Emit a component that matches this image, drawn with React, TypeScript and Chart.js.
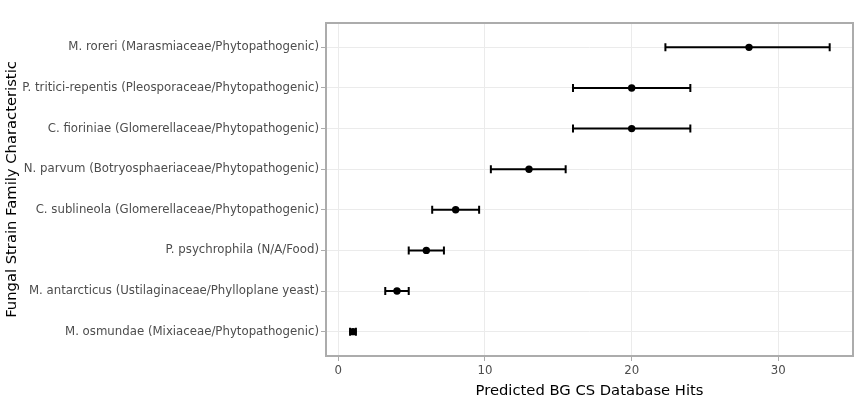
import React, { useEffect, useRef } from "react";
import { Chart, registerables } from "chart.js";

Chart.register(...registerables);

const categories = [
  "M. roreri (Marasmiaceae/Phytopathogenic)",
  "P. tritici-repentis (Pleosporaceae/Phytopathogenic)",
  "C. fioriniae (Glomerellaceae/Phytopathogenic)",
  "N. parvum (Botryosphaeriaceae/Phytopathogenic)",
  "C. sublineola (Glomerellaceae/Phytopathogenic)",
  "P. psychrophila (N/A/Food)",
  "M. antarcticus (Ustilaginaceae/Phylloplane yeast)",
  "M. osmundae (Mixiaceae/Phytopathogenic)",
];
const hits = [28, 20, 20, 13, 8, 6, 4, 1];
const lower = [22.3, 16, 16, 10.4, 6.4, 4.8, 3.2, 0.8];
const upper = [33.5, 24, 24, 15.5, 9.6, 7.2, 4.8, 1.2];
const xTicks = [0, 10, 20, 30];

const xTitle = "Predicted BG CS Database Hits";
const yTitle = "Fungal Strain Family Characteristic";

const FONT = "'DejaVu Sans', Verdana, sans-serif";

const framePlugin = {
  id: "frame",
  beforeDatasetsDraw(chart: any) {
    const { ctx, chartArea } = chart;
    ctx.save();
    ctx.strokeStyle = "#acacac";
    ctx.lineWidth = 2;
    ctx.strokeRect(
      chartArea.left,
      chartArea.top,
      chartArea.right - chartArea.left,
      chartArea.bottom - chartArea.top
    );
    ctx.restore();
  },
};

const errorBarPlugin = {
  id: "errorBars",
  beforeDatasetsDraw(chart: any) {
    const { ctx, scales } = chart;
    const x = scales.x;
    const y = scales.y;
    ctx.save();
    ctx.strokeStyle = "#000000";
    ctx.lineWidth = 2;
    hits.forEach((_, i) => {
      const py = y.getPixelForValue(i);
      const x1 = x.getPixelForValue(lower[i]);
      const x2 = x.getPixelForValue(upper[i]);
      ctx.beginPath();
      ctx.moveTo(x1, py);
      ctx.lineTo(x2, py);
      ctx.moveTo(x1, py - 4);
      ctx.lineTo(x1, py + 4);
      ctx.moveTo(x2, py - 4);
      ctx.lineTo(x2, py + 4);
      ctx.stroke();
    });
    ctx.restore();
  },
};

export default function App() {
  const canvasRef = useRef<HTMLCanvasElement | null>(null);

  useEffect(() => {
    if (!canvasRef.current) return;
    const chart = new Chart(canvasRef.current, {
      type: "scatter",
      data: {
        datasets: [
          {
            data: hits.map((v, i) => ({ x: v, y: i })),
            backgroundColor: "#000000",
            borderColor: "#000000",
            pointRadius: 3.7,
            pointHoverRadius: 3.7,
            borderWidth: 0,
          },
        ],
      },
      options: {
        animation: false,
        responsive: false,
        devicePixelRatio: 1,
        layout: { padding: { top: 23, right: 7, left: 0, bottom: 0 } },
        plugins: {
          legend: { display: false },
          tooltip: { enabled: false },
        },
        scales: {
          x: {
            type: "linear",
            min: -0.84,
            max: 35.09,
            afterFit: (s: any) => {
              s.height = 44;
            },
            afterBuildTicks: (s: any) => {
              s.ticks = xTicks.map((v) => ({ value: v }));
            },
            ticks: {
              includeBounds: false,
              padding: 3,
              color: "#4d4d4d",
              font: { family: FONT, size: 11.75 },
              maxRotation: 0,
            },
            grid: {
              color: "#ebebeb",
              lineWidth: 1,
              tickLength: 5,
              tickColor: "#acacac",
            },
            border: { display: false },
            title: {
              display: true,
              text: xTitle,
              color: "#000000",
              font: { family: FONT, size: 14.75 },
              padding: { top: 0, bottom: 0 },
            },
          },
          y: {
            type: "linear",
            min: -0.6,
            max: 7.6,
            reverse: true,
            afterFit: (s: any) => {
              s.width = 326;
            },
            afterBuildTicks: (s: any) => {
              s.ticks = categories.map((_, i) => ({ value: i }));
            },
            ticks: {
              includeBounds: false,
              padding: 2,
              color: "#4d4d4d",
              font: { family: FONT, size: 11.75 },
              callback: (v: any) => categories[Number(v)] ?? "",
            },
            grid: {
              color: "#ebebeb",
              lineWidth: 1,
              tickLength: 5,
              tickColor: "#acacac",
            },
            border: { display: false },
            title: {
              display: true,
              text: yTitle,
              color: "#000000",
              font: { family: FONT, size: 14.75 },
              padding: { top: 3, bottom: 0 },
            },
          },
        },
      },
      plugins: [framePlugin, errorBarPlugin],
    });
    return () => chart.destroy();
  }, []);

  return (
    <div style={{ position: "absolute", left: 0, top: 0, width: 860, height: 400, background: "#ffffff" }}>
      <canvas ref={canvasRef} width={860} height={400} style={{ display: "block" }} />
    </div>
  );
}
